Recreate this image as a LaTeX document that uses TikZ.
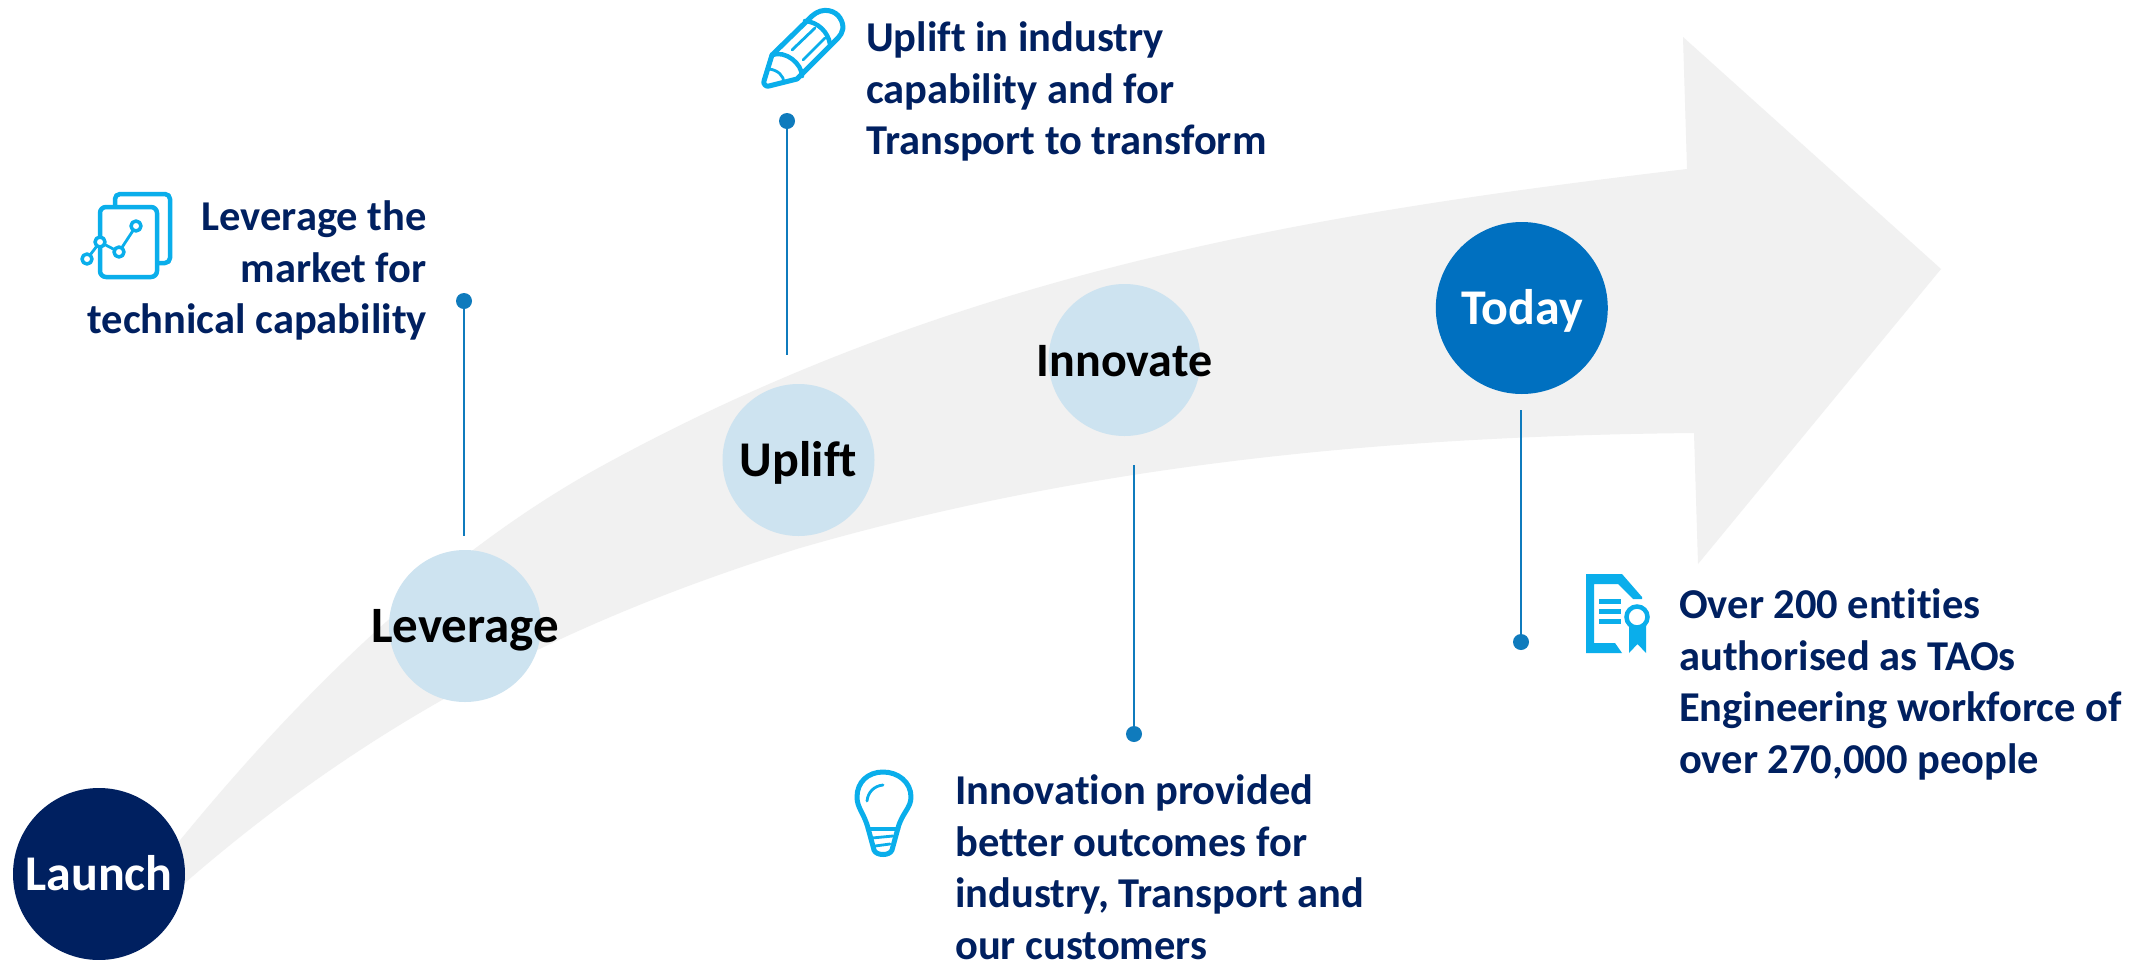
\documentclass[tikz,border=0pt]{standalone}
\usepackage{fontspec}
\setmainfont{Carlito}[Ligatures=CommonOff]
\tikzset{
  x=1pt,y=-1pt,
  bubble/.style={circle,inner sep=0pt,minimum size=152pt,fill=bubblec},
  darkbubble/.style={circle,inner sep=0pt,minimum size=172pt},
  bubbletext/.style={inner sep=0pt,text height=32pt,text depth=0pt,font=\fontsize{50}{60}\selectfont\bfseries},
  dotn/.style={circle,inner sep=0pt,minimum size=16pt,fill=linec},
  conn/.style={draw=linec,line width=2.7pt},
  note/.style={inner sep=0pt,text=navyc,font=\fontsize{42.5}{51.5}\selectfont\bfseries},
  ico/.style={draw=iconc,line width=4.5pt,line join=round,line cap=round},
  icothin/.style={draw=iconc,line width=2.8pt,line join=round,line cap=round}
}
\definecolor{navyc}{HTML}{002060}
\definecolor{bubblec}{HTML}{CDE3F0}
\definecolor{linec}{HTML}{0F7BBD}
\definecolor{iconc}{HTML}{0AAEEB}
\definecolor{todayc}{HTML}{0070C0}
\definecolor{arrowc}{HTML}{F1F1F1}
\begin{document}
\begin{tikzpicture}
\useasboundingbox (0,0) rectangle (2156,959);
\fill[white] (0,0) rectangle (2156,959);
% arrow
\fill[arrowc] (150,880) -- (160,865) .. controls (307,681) and (453,548) .. (600,467)
  .. controls (962,268) and (1325,212) .. (1687,169)
  -- (1683,37) -- (1941,269) -- (1698,564) -- (1694,433)
  .. controls (1396,436) and (1098,462) .. (800,548)
  .. controls (595,612) and (391,704) .. (186,882) -- (150,915) -- cycle;
% bubbles
\node[darkbubble,fill=navyc] (launch) at (99,874) {};
\node[bubble] (leverage) at (465,626) {};
\node[bubble] (uplift) at (798.5,460) {};
\node[bubble] (innovate) at (1124.5,360) {};
\node[darkbubble,fill=todayc] (today) at (1521.8,308) {};
\node[bubbletext,text=white] (tlaunch) at (launch) {Launch};
\node[bubbletext,text=black,font=\fontsize{51}{60}\selectfont\bfseries] (tleverage) at (leverage) {Leverage};
\node[bubbletext,text=black] (tuplift) at (uplift) {Uplift};
\node[bubbletext,text=black,font=\fontsize{48}{60}\selectfont\bfseries] (tinnovate) at (innovate) {Innovate};
\node[bubbletext,text=white] (ttoday) at (today) {Today};
% connectors
\node[dotn] (d1) at (464,301) {};
\node[dotn] (d2) at (787,121) {};
\node[dotn] (d3) at (1134,734) {};
\node[dotn] (d4) at (1521,642) {};
\coordinate (e1) at (464,536);
\coordinate (e2) at (787,355);
\coordinate (e3) at (1134,465);
\coordinate (e4) at (1521,410);
\draw[conn] (d1) -- (e1);
\draw[conn] (d2) -- (e2);
\draw[conn] (d3) -- (e3);
\draw[conn] (d4) -- (e4);
% notes
\node[note,align=right,anchor=north east] (n1) at (427,200.5) {Leverage the\\market for\\technical capability};
\node[note,align=left,anchor=north west] (n2) at (866,21.7) {Uplift in industry\\capability and for\\Transport to transform};
\node[note,align=left,anchor=north west] (n3) at (955,774.5) {Innovation provided\\better outcomes for\\industry, Transport and\\our customers};
\node[note,align=left,anchor=north west] (n4) at (1679,588.5) {Over 200 entities\\authorised as TAOs\\Engineering workforce of\\over 270,000 people};
% icon 1
\draw[ico,fill=white,rounded corners=5pt] (115,194) rectangle (170,263);
\draw[ico,fill=white,rounded corners=6pt] (100,207) rectangle (157,277);
\draw[icothin] (87,259) -- (100,242) -- (119,252) -- (136,226);
\foreach \p in {(87,259),(100,242),(119,252),(136,226)} \draw[ico,line width=3.5pt,fill=white] \p circle (5pt);
% icon 2 pencil
\draw[ico,line width=5pt] (772,55) -- (812,16) .. controls (823,6) and (836,11) .. (840,18) .. controls (845,26) and (843,33) .. (838,38) -- (797,79) -- (769,86) .. controls (766,87) and (763,84) .. (764,81) -- cycle;
\draw[ico] (805,21) .. controls (818,22) and (828,32) .. (830,44);
\draw[ico] (772,55) .. controls (786,50) and (802,64) .. (802,76);
\draw[icothin] (792,50) -- (815,28);
\draw[icothin] (803,60) -- (825,38);
\draw[icothin] (769,69) .. controls (778,70) and (784,76) .. (784,83);
% icon 3 bulb
\draw[ico,line width=5pt] (868,828) .. controls (864,813) and (857,808) .. (857,797) .. controls (857,782) and (868,772) .. (883,772) .. controls (898,772) and (911,782) .. (911,797) .. controls (911,808) and (902,813) .. (898,828) -- (892,850) .. controls (890,856) and (876,856) .. (874,850) -- cycle;
\draw[ico] (868,829) -- (898,829);
\draw[icothin] (867,801) .. controls (868,792) and (874,786) .. (883,785);
\draw[icothin] (872,838) -- (893,836);
\draw[icothin] (875,846) -- (890,844);
% icon 4 certificate
\fill[iconc] (1586,574) -- (1622,574) -- (1642,597) -- (1642,599) -- (1633,599) -- (1618,584) -- (1594,584) -- (1594,643) -- (1615,643) -- (1622,653) -- (1586,653) -- cycle;
\fill[iconc] (1599,599) rectangle (1621,604);
\fill[iconc] (1599,609) rectangle (1621,614);
\fill[iconc] (1599,619) rectangle (1621,624);
\fill[iconc] (1629,626) -- (1629,653) -- (1637.5,644) -- (1646,653) -- (1646,626) -- cycle;
\draw[iconc,line width=4.5pt,fill=white] (1637,617) circle (10.5pt);
\end{tikzpicture}
\end{document}
